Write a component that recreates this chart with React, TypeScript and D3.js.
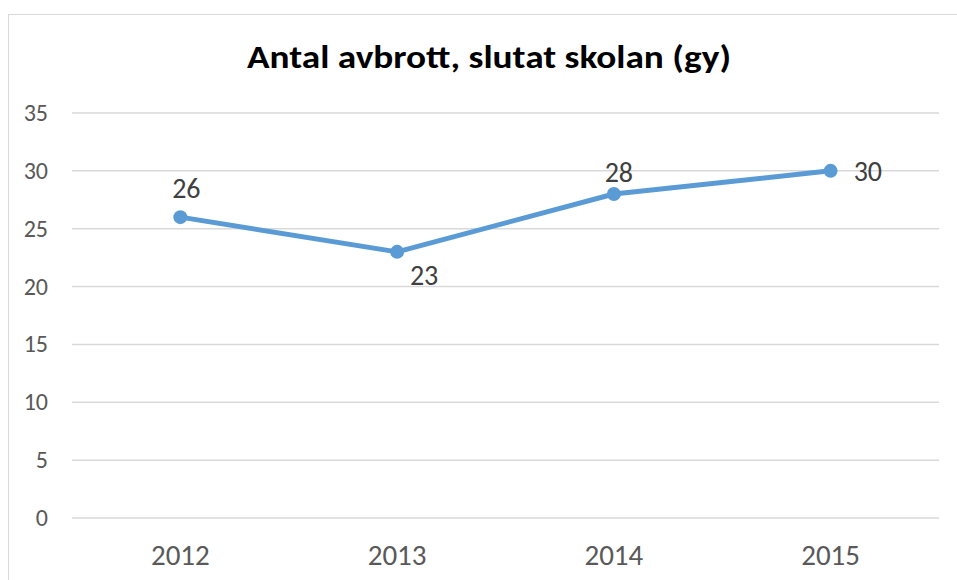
import { line, scaleBand, scaleLinear } from 'd3'

const years = ['2012', '2013', '2014', '2015']
const dropouts = [26, 23, 28, 30]
const yTicks = [0, 5, 10, 15, 20, 25, 30, 35]

const title = 'Antal avbrott, slutat skolan (gy)'

export default function App() {
  const width = 957
  const height = 580
  const margin = { left: 72, right: 18, top: 113, bottom: 62 }

  const x = scaleBand().domain(years).range([margin.left, width - margin.right])
  const y = scaleLinear().domain([0, 35]).range([height - margin.bottom, margin.top])
  const cx = (d: string) => (x(d) ?? 0) + x.bandwidth() / 2

  const path = line<number>()
    .x((_, i) => cx(years[i]))
    .y((v) => y(v))

  // where Excel put each data label, relative to its point
  const labelOffset = [
    { dx: 6, dy: -19, anchor: 'middle' },
    { dx: 27, dy: 33, anchor: 'middle' },
    { dx: 5, dy: -12, anchor: 'middle' },
    { dx: 23, dy: 10, anchor: 'start' },
  ]

  const font = 'Calibri, Carlito, "Open Sans", sans-serif'

  return (
    <svg width={width} height={height} style={{ position: 'absolute', left: 0, top: 0 }}>
      <rect x={0} y={0} width={width} height={height} fill="#fff" />
      <rect x={8.5} y={14.5} width={width + 10} height={height + 10} fill="#fff" stroke="#d9d9d9" />
      <text
        x={489}
        y={68}
        textAnchor="middle"
        fontFamily={font}
        fontWeight="bold"
        fontSize={32}
        fill="#000"
        textLength={484}
        lengthAdjust="spacingAndGlyphs"
      >
        {title}
      </text>
      {yTicks.map((t) => (
        <g key={t}>
          <line x1={margin.left} x2={width - margin.right} y1={y(t)} y2={y(t)} stroke="#d9d9d9" strokeWidth={1.5} />
          <text x={48} y={y(t) + 8} textAnchor="end" fontFamily={font} fontSize={24} fill="#595959">
            {t}
          </text>
        </g>
      ))}
      {years.map((d) => (
        <text key={d} x={cx(d)} y={565} textAnchor="middle" fontFamily={font} fontSize={29} fill="#595959">
          {d}
        </text>
      ))}
      <path d={path(dropouts) ?? ''} fill="none" stroke="#5b9bd5" strokeWidth={5} strokeLinejoin="round" />
      {dropouts.map((v, i) => (
        <circle key={i} cx={cx(years[i])} cy={y(v)} r={7} fill="#5b9bd5" />
      ))}
      {dropouts.map((v, i) => {
        const o = labelOffset[i]
        return (
          <text
            key={i}
            x={cx(years[i]) + o.dx}
            y={y(v) + o.dy}
            textAnchor={o.anchor}
            fontFamily={font}
            fontSize={28}
            fill="#404040"
          >
            {v}
          </text>
        )
      })}
    </svg>
  )
}
